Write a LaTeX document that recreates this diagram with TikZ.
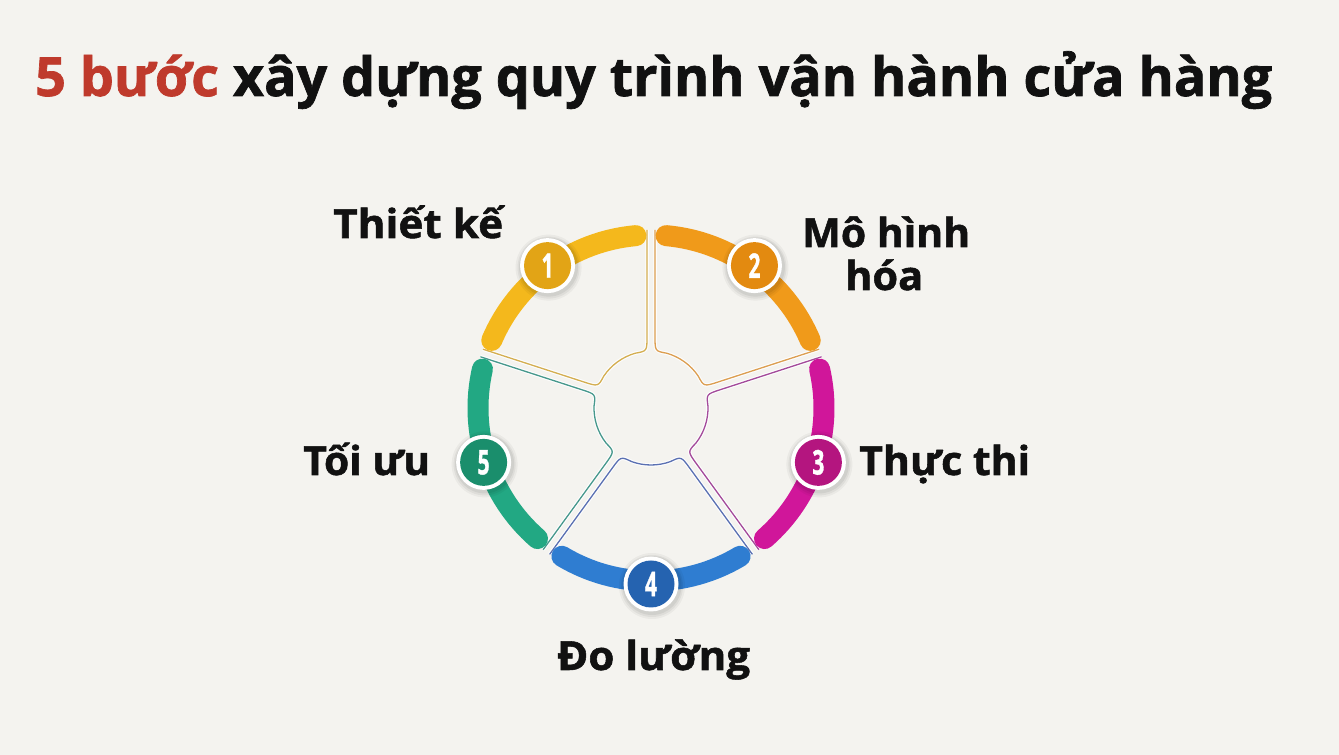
\documentclass[tikz,border=0pt]{standalone}
\usepackage{fontspec}
\setmainfont{Open Sans}[BoldFeatures={FakeBold=1.3}]
\usetikzlibrary{calc}
\definecolor{bgcol}{HTML}{F4F3EF}
\definecolor{tred}{HTML}{BF3A2C}
\definecolor{tblack}{HTML}{111111}
\definecolor{segY}{HTML}{F4B81C}
\definecolor{segO}{HTML}{F09A1A}
\definecolor{segM}{HTML}{D0169A}
\definecolor{segB}{HTML}{2F7DD1}
\definecolor{segG}{HTML}{22A883}
\definecolor{badY}{HTML}{E2A416}
\definecolor{badO}{HTML}{E38A10}
\definecolor{badM}{HTML}{B4157F}
\definecolor{badB}{HTML}{2563B0}
\definecolor{badG}{HTML}{1A8E6C}
\definecolor{linY}{HTML}{D4AE50}
\definecolor{linO}{HTML}{DC9E50}
\definecolor{linM}{HTML}{A34A9A}
\definecolor{linB}{HTML}{5A70B2}
\definecolor{linG}{HTML}{46988C}
\newcommand\lblfont{\fontsize{40}{40}\selectfont\bfseries}
\tikzset{
  lbl/.style={anchor=base west, inner sep=0pt, text=tblack},
  halo/.style={draw=white, line width=3.5pt, opacity=0.9},
  edgeline/.style={line width=1.3pt, preaction={halo}},
  ring/.style={line width=21pt, line cap=round},
  badge/.style={circle, inner sep=0pt, minimum size=47pt, text=white,
    font=\fontsize{34}{34}\selectfont\bfseries}
}
\begin{document}
\begin{tikzpicture}[x=1pt,y=1pt]
\fill[bgcol] (0,0) rectangle (1339,755);
\useasboundingbox (0,0) rectangle (1339,755);
\coordinate (O) at (651,347);

% sector outlines
\foreach \c/\lc in {126/linY, 54/linO, -18/linM, -90/linB, 198/linG}{
    \draw[edgeline, draw=\lc]
      ($(O)+({\c+36}:178)+({\c-54}:4)$) -- ($(O)+({\c+36}:72)+({\c-54}:4)$)
      .. controls ($(O)+({\c+32}:57)$) .. ($(O)+({\c+20}:57)$)
      arc[start angle={\c+20}, end angle={\c-20}, radius=57]
      .. controls ($(O)+({\c-32}:57)$) .. ($(O)+({\c-36}:72)+({\c+54}:4)$)
      -- ($(O)+({\c-36}:178)+({\c+54}:4)$);
}

% thick arcs
\foreach \c/\col in {126/segY, 54/segO, -18/segM, -90/segB, 198/segG}{
  \draw[ring, draw=\col] ($(O)+({\c+31}:173)$) arc[start angle={\c+31}, end angle={\c-31}, radius=173];
}

% badges
\foreach \c/\bcol/\n in {126/badY/1, 54/badO/2, -18/badM/3, -90/badB/4, 198/badG/5}{
  \fill[black, opacity=0.04] ($(O)+(\c:176)+(1,-2)$) circle (33);
  \fill[black, opacity=0.05] ($(O)+(\c:176)+(1,-2)$) circle (31);
  \fill[black, opacity=0.06] ($(O)+(\c:176)+(1,-1.5)$) circle (29.5);
  \fill[white] ($(O)+(\c:176)$) circle (27.5);
  \node[badge, fill=\bcol] (b\n) at ($(O)+(\c:176)$) {\scalebox{0.62}[1]{\n}};
}

% title
\node[lbl] (title) at (35,659) {\resizebox{1237pt}{\height}{\fontsize{54}{54}\selectfont\bfseries\textcolor{tred}{5 bước} xây dựng quy trình vận hành cửa hàng}};

% labels
\node[lbl] (l1) at (333,517) {\resizebox{170pt}{\height}{\lblfont Thiết kế}};
\node[lbl] (l2a) at (802,508) {\resizebox{168pt}{\height}{\lblfont Mô hình}};
\node[lbl] (l2b) at (845,465) {\resizebox{78pt}{\height}{\lblfont hóa}};
\node[lbl] (l3) at (859,280) {\resizebox{171pt}{\height}{\lblfont Thực thi}};
\node[lbl] (l4) at (557,85) {\resizebox{193pt}{\height}{\lblfont Đo lường}};
\node[lbl] (l5) at (303,280) {\resizebox{127pt}{\height}{\lblfont Tối ưu}};
\end{tikzpicture}
\end{document}
